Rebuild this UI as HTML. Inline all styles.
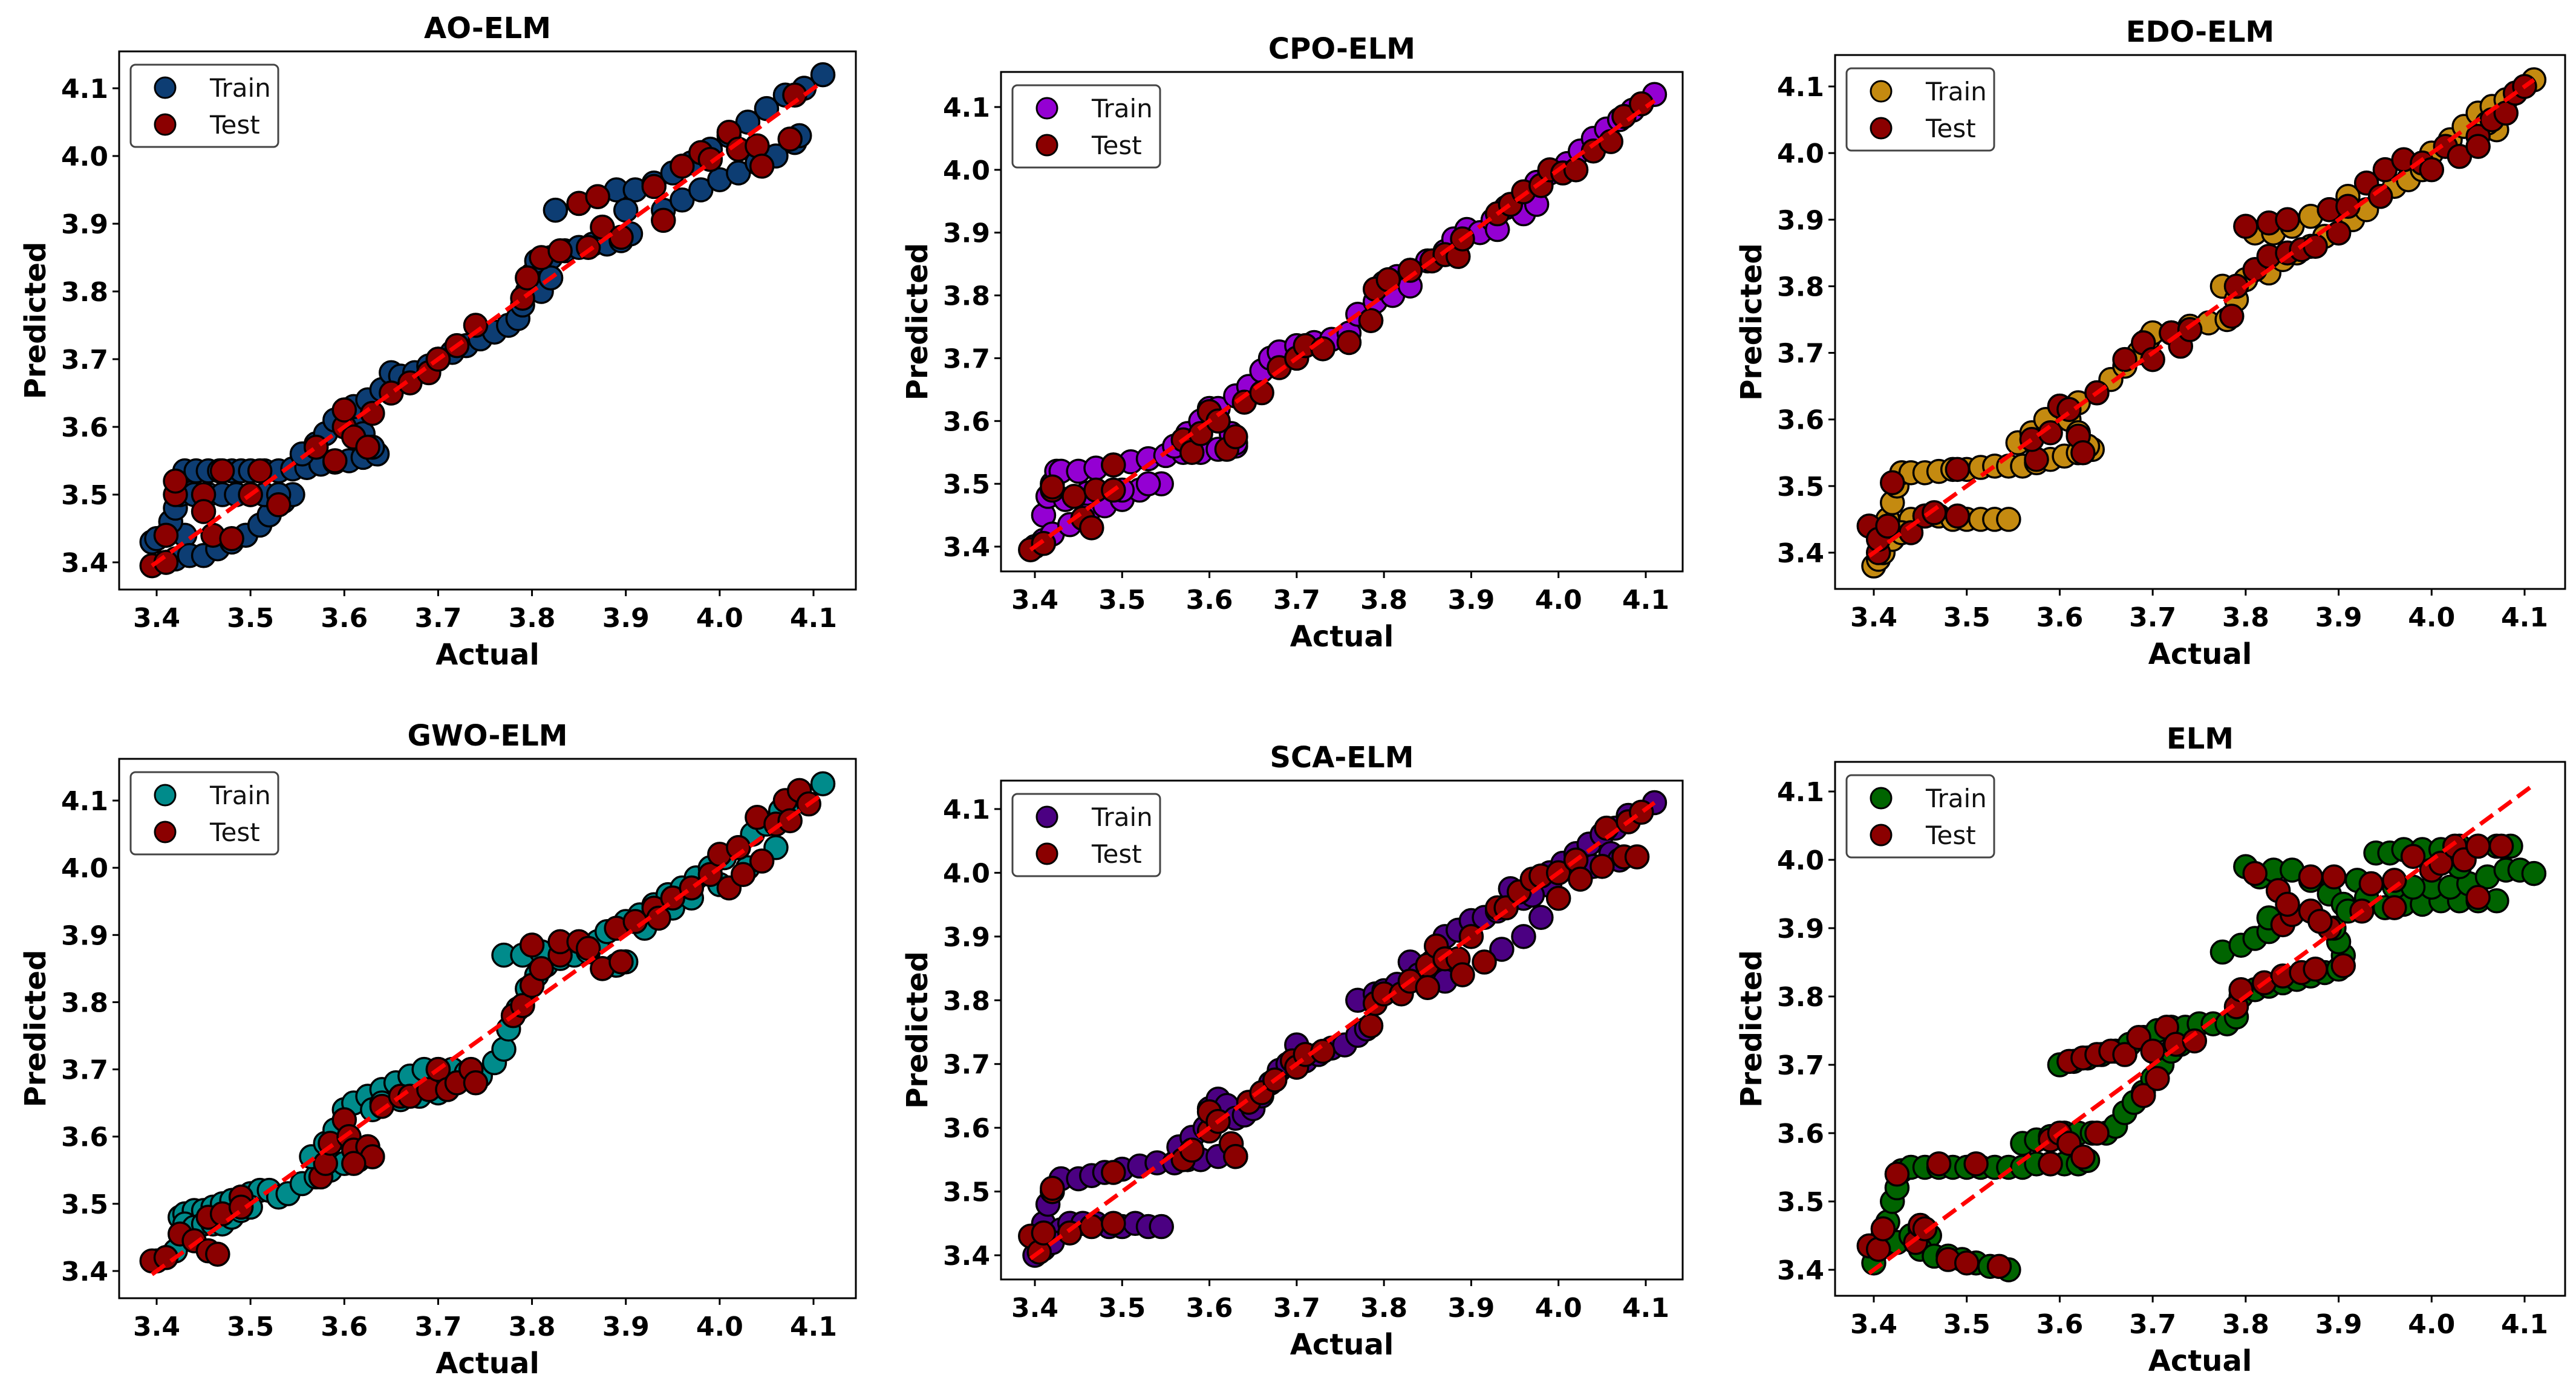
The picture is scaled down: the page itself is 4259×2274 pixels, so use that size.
<!DOCTYPE html>
<html><head><meta charset="utf-8"><style>
html,body{margin:0;padding:0;background:#fff;}
svg{display:block;}
text{font-family:"DejaVu Sans","Liberation Sans",sans-serif;}
</style></head><body>
<svg id="fig" width="4259" height="2274" viewBox="0 0 4259 2274" xmlns="http://www.w3.org/2000/svg"></svg>
<script>
const xTicks=[3.4,3.5,3.6,3.7,3.8,3.9,4.0,4.1];
const yTicks=[3.4,3.5,3.6,3.7,3.8,3.9,4.0,4.1];
const tickLabels=["3.4","3.5","3.6","3.7","3.8","3.9","4.0","4.1"];
const titles=["AO-ELM","CPO-ELM","EDO-ELM","GWO-ELM","SCA-ELM","ELM"];
const trainColors=["#0d3d73","#9400d3","#c48a10","#008b8b","#4b0082","#006400"];
const testColor="#8b0000";
const idealLine=[[3.395,3.395],[4.11,4.11]];

const aoTrain=[[3.395,3.43],[3.40,3.435],[3.41,3.44],[3.43,3.44],[3.41,3.40],[3.42,3.405],[3.435,3.41],[3.45,3.41],[3.465,3.42],[3.48,3.43],[3.495,3.44],[3.51,3.455],[3.52,3.47],[3.535,3.49],[3.545,3.50],[3.415,3.46],[3.42,3.48],[3.425,3.50],[3.425,3.52],[3.43,3.535],[3.442,3.535],[3.455,3.535],[3.467,3.535],[3.48,3.535],[3.49,3.535],[3.50,3.535],[3.515,3.535],[3.53,3.535],[3.545,3.538],[3.56,3.54],[3.575,3.545],[3.59,3.548],[3.605,3.55],[3.62,3.555],[3.635,3.56],[3.44,3.50],[3.455,3.50],[3.47,3.50],[3.485,3.50],[3.50,3.50],[3.515,3.50],[3.53,3.50],[3.555,3.56],[3.57,3.575],[3.58,3.59],[3.59,3.61],[3.60,3.625],[3.61,3.61],[3.62,3.59],[3.63,3.57],[3.61,3.63],[3.625,3.64],[3.64,3.655],[3.65,3.68],[3.66,3.675],[3.675,3.68],[3.69,3.69],[3.70,3.70],[3.715,3.71],[3.73,3.72],[3.745,3.73],[3.76,3.74],[3.775,3.75],[3.785,3.76],[3.79,3.78],[3.795,3.80],[3.80,3.825],[3.805,3.845],[3.82,3.85],[3.835,3.86],[3.85,3.865],[3.865,3.87],[3.88,3.87],[3.895,3.875],[3.905,3.885],[3.81,3.80],[3.82,3.82],[3.825,3.92],[3.85,3.93],[3.87,3.94],[3.89,3.95],[3.91,3.95],[3.93,3.96],[3.95,3.975],[3.97,3.99],[3.99,4.01],[4.01,4.03],[4.03,4.05],[4.05,4.07],[4.07,4.09],[4.09,4.10],[4.11,4.12],[3.90,3.92],[3.94,3.92],[3.96,3.935],[3.98,3.95],[4.00,3.965],[4.02,3.975],[4.04,3.99],[4.06,4.00],[4.08,4.02],[4.085,4.03]];
const aoTest=[[3.395,3.395],[3.41,3.40],[3.41,3.44],[3.42,3.50],[3.42,3.52],[3.45,3.50],[3.45,3.475],[3.46,3.44],[3.48,3.435],[3.50,3.50],[3.51,3.535],[3.47,3.535],[3.53,3.485],[3.57,3.57],[3.59,3.55],[3.60,3.60],[3.60,3.625],[3.61,3.585],[3.625,3.57],[3.63,3.62],[3.65,3.65],[3.67,3.665],[3.69,3.68],[3.70,3.70],[3.72,3.72],[3.74,3.75],[3.79,3.79],[3.795,3.82],[3.81,3.85],[3.83,3.86],[3.86,3.865],[3.875,3.895],[3.895,3.88],[3.85,3.93],[3.87,3.94],[3.93,3.955],[3.94,3.905],[3.96,3.985],[3.98,4.005],[3.99,3.995],[4.01,4.035],[4.02,4.01],[4.04,4.015],[4.045,3.985],[4.075,4.025],[4.08,4.09]];

const cpoTrain=[[3.40,3.40],[3.41,3.45],[3.415,3.48],[3.42,3.50],[3.425,3.52],[3.43,3.52],[3.45,3.52],[3.47,3.525],[3.49,3.53],[3.51,3.535],[3.53,3.54],[3.55,3.545],[3.57,3.55],[3.59,3.55],[3.61,3.555],[3.63,3.56],[3.41,3.41],[3.42,3.42],[3.44,3.435],[3.46,3.45],[3.48,3.465],[3.50,3.475],[3.52,3.49],[3.545,3.50],[3.435,3.475],[3.46,3.485],[3.50,3.49],[3.53,3.50],[3.56,3.56],[3.575,3.58],[3.59,3.60],[3.60,3.62],[3.61,3.60],[3.625,3.58],[3.63,3.565],[3.61,3.62],[3.63,3.64],[3.645,3.655],[3.66,3.68],[3.67,3.70],[3.68,3.71],[3.70,3.72],[3.72,3.725],[3.74,3.73],[3.76,3.74],[3.77,3.77],[3.785,3.76],[3.79,3.79],[3.80,3.82],[3.815,3.83],[3.83,3.84],[3.85,3.855],[3.87,3.87],[3.88,3.89],[3.895,3.905],[3.91,3.90],[3.925,3.92],[3.94,3.94],[3.96,3.96],[3.975,3.98],[3.99,3.995],[4.01,4.01],[4.025,4.03],[4.04,4.05],[4.055,4.065],[4.07,4.08],[4.085,4.095],[4.11,4.12],[3.96,3.93],[3.975,3.945],[3.93,3.905],[3.81,3.80],[3.83,3.815]];
const cpoTest=[[3.395,3.395],[3.41,3.405],[3.42,3.49],[3.42,3.495],[3.445,3.48],[3.455,3.445],[3.465,3.43],[3.47,3.49],[3.49,3.49],[3.49,3.53],[3.57,3.57],[3.58,3.55],[3.59,3.58],[3.60,3.615],[3.61,3.60],[3.62,3.555],[3.63,3.575],[3.64,3.63],[3.66,3.645],[3.68,3.685],[3.70,3.70],[3.71,3.72],[3.73,3.715],[3.76,3.725],[3.785,3.76],[3.79,3.81],[3.805,3.825],[3.83,3.84],[3.855,3.855],[3.87,3.865],[3.885,3.862],[3.89,3.89],[3.93,3.93],[3.945,3.945],[3.96,3.965],[3.98,3.975],[3.99,4.0],[4.005,3.995],[4.02,4.0],[4.04,4.03],[4.06,4.045],[4.075,4.085],[4.095,4.105]];

const edoTrain=[[3.40,3.38],[3.405,3.39],[3.41,3.40],[3.41,3.43],[3.415,3.45],[3.42,3.475],[3.425,3.50],[3.43,3.52],[3.44,3.52],[3.455,3.52],[3.47,3.522],[3.485,3.525],[3.50,3.525],[3.515,3.528],[3.53,3.53],[3.545,3.53],[3.56,3.53],[3.575,3.535],[3.59,3.54],[3.605,3.545],[3.62,3.55],[3.635,3.555],[3.44,3.45],[3.455,3.455],[3.47,3.455],[3.485,3.45],[3.50,3.45],[3.515,3.45],[3.53,3.45],[3.545,3.45],[3.42,3.42],[3.43,3.43],[3.555,3.565],[3.57,3.58],[3.585,3.60],[3.60,3.62],[3.61,3.60],[3.62,3.58],[3.63,3.56],[3.62,3.625],[3.64,3.64],[3.655,3.66],[3.67,3.68],[3.685,3.70],[3.695,3.72],[3.70,3.73],[3.72,3.73],[3.74,3.74],[3.76,3.745],[3.78,3.75],[3.775,3.80],[3.79,3.78],[3.80,3.81],[3.81,3.825],[3.825,3.82],[3.84,3.84],[3.855,3.85],[3.87,3.86],[3.885,3.875],[3.90,3.88],[3.915,3.90],[3.93,3.915],[3.945,3.935],[3.96,3.95],[3.975,3.96],[3.99,3.975],[4.00,4.00],[4.02,4.02],[4.035,4.04],[4.05,4.06],[4.065,4.07],[4.08,4.08],[4.11,4.11],[4.07,4.035],[4.06,4.045],[3.81,3.88],[3.83,3.88],[3.85,3.89],[3.87,3.905],[3.89,3.915],[3.91,3.935]];
const edoTest=[[3.395,3.44],[3.405,3.40],[3.405,3.42],[3.415,3.44],[3.42,3.505],[3.44,3.43],[3.455,3.455],[3.465,3.46],[3.49,3.455],[3.49,3.525],[3.575,3.54],[3.57,3.57],[3.59,3.58],[3.60,3.62],[3.61,3.615],[3.62,3.575],[3.625,3.55],[3.64,3.64],[3.67,3.69],[3.69,3.715],[3.70,3.69],[3.72,3.73],[3.73,3.71],[3.74,3.735],[3.785,3.755],[3.79,3.80],[3.81,3.825],[3.825,3.845],[3.845,3.85],[3.86,3.855],[3.875,3.86],[3.80,3.89],[3.825,3.895],[3.845,3.90],[3.89,3.915],[3.90,3.88],[3.91,3.92],[3.93,3.955],[3.945,3.935],[3.95,3.975],[3.97,3.99],[3.99,3.985],[4.00,3.975],[4.015,4.01],[4.03,3.995],[4.05,4.025],[4.065,4.05],[4.08,4.06],[4.09,4.09],[4.10,4.10],[4.05,4.01]];

const gwoTrain=[[3.40,3.415],[3.41,3.42],[3.42,3.43],[3.425,3.48],[3.43,3.485],[3.44,3.49],[3.45,3.49],[3.46,3.495],[3.47,3.50],[3.48,3.505],[3.49,3.51],[3.50,3.515],[3.51,3.52],[3.52,3.52],[3.53,3.51],[3.54,3.515],[3.43,3.47],[3.44,3.465],[3.45,3.47],[3.46,3.47],[3.47,3.47],[3.48,3.48],[3.49,3.49],[3.50,3.495],[3.555,3.53],[3.57,3.54],[3.585,3.55],[3.60,3.56],[3.615,3.565],[3.63,3.57],[3.565,3.57],[3.58,3.59],[3.59,3.61],[3.60,3.64],[3.61,3.65],[3.625,3.66],[3.64,3.67],[3.655,3.68],[3.67,3.69],[3.685,3.70],[3.70,3.70],[3.715,3.70],[3.73,3.695],[3.745,3.69],[3.76,3.71],[3.77,3.73],[3.775,3.76],[3.785,3.79],[3.795,3.82],[3.805,3.84],[3.815,3.855],[3.83,3.865],[3.845,3.87],[3.86,3.875],[3.87,3.89],[3.88,3.905],[3.875,3.85],[3.89,3.855],[3.90,3.86],[3.77,3.87],[3.79,3.87],[3.81,3.875],[3.63,3.64],[3.64,3.65],[3.66,3.655],[3.68,3.66],[3.70,3.665],[3.90,3.92],[3.915,3.93],[3.93,3.945],[3.945,3.96],[3.96,3.97],[3.975,3.985],[3.99,4.00],[4.005,4.015],[4.02,4.03],[4.035,4.05],[4.05,4.065],[4.065,4.085],[4.08,4.10],[4.11,4.125],[3.92,3.91],[3.95,3.94],[3.97,3.955],[4.00,3.975],[4.03,4.00],[4.06,4.03]];
const gwoTest=[[3.395,3.415],[3.41,3.42],[3.425,3.455],[3.44,3.445],[3.455,3.48],[3.455,3.43],[3.465,3.425],[3.47,3.485],[3.49,3.51],[3.49,3.495],[3.575,3.54],[3.58,3.56],[3.585,3.59],[3.60,3.625],[3.605,3.60],[3.61,3.58],[3.625,3.585],[3.63,3.57],[3.61,3.56],[3.64,3.645],[3.66,3.66],[3.67,3.66],[3.69,3.67],[3.70,3.70],[3.71,3.67],[3.72,3.68],[3.735,3.70],[3.74,3.68],[3.78,3.78],[3.79,3.795],[3.80,3.825],[3.81,3.85],[3.83,3.87],[3.80,3.885],[3.83,3.89],[3.85,3.89],[3.86,3.88],[3.875,3.85],[3.895,3.86],[3.89,3.91],[3.91,3.92],[3.93,3.94],[3.935,3.925],[3.95,3.955],[3.97,3.97],[3.99,3.99],[4.00,4.02],[4.01,3.97],[4.02,4.03],[4.025,3.99],[4.04,4.075],[4.045,4.01],[4.06,4.065],[4.07,4.10],[4.075,4.07],[4.085,4.115],[4.095,4.095]];

const scaTrain=[[3.40,3.40],[3.41,3.41],[3.41,3.45],[3.415,3.48],[3.42,3.50],[3.43,3.52],[3.45,3.52],[3.465,3.525],[3.48,3.53],[3.50,3.535],[3.52,3.54],[3.54,3.545],[3.56,3.545],[3.575,3.55],[3.59,3.55],[3.61,3.555],[3.63,3.555],[3.43,3.44],[3.44,3.45],[3.455,3.45],[3.47,3.45],[3.485,3.445],[3.50,3.445],[3.515,3.45],[3.53,3.445],[3.545,3.445],[3.42,3.42],[3.565,3.57],[3.58,3.585],[3.595,3.60],[3.60,3.63],[3.61,3.645],[3.62,3.635],[3.63,3.615],[3.64,3.62],[3.65,3.63],[3.66,3.65],[3.67,3.67],[3.68,3.69],[3.69,3.70],[3.70,3.73],[3.71,3.705],[3.725,3.715],[3.74,3.725],[3.755,3.73],[3.77,3.745],[3.78,3.755],[3.77,3.80],[3.79,3.81],[3.80,3.815],[3.815,3.825],[3.83,3.86],[3.84,3.84],[3.855,3.86],[3.87,3.90],[3.885,3.91],[3.90,3.925],[3.915,3.93],[3.93,3.94],[3.945,3.975],[3.96,3.96],[3.975,3.985],[3.99,4.00],[4.005,4.015],[4.02,4.03],[4.035,4.045],[4.05,4.06],[4.065,4.07],[4.08,4.09],[4.11,4.11],[4.06,4.03],[4.07,4.02],[4.04,4.01],[3.87,3.83],[3.935,3.88],[3.96,3.90],[3.98,3.93],[3.99,3.98],[3.97,3.965]];
const scaTest=[[3.395,3.43],[3.405,3.405],[3.41,3.435],[3.42,3.50],[3.42,3.505],[3.44,3.435],[3.465,3.445],[3.49,3.45],[3.49,3.53],[3.57,3.55],[3.58,3.565],[3.60,3.595],[3.60,3.625],[3.61,3.61],[3.625,3.575],[3.63,3.555],[3.645,3.64],[3.66,3.655],[3.675,3.675],[3.695,3.705],[3.70,3.695],[3.71,3.715],[3.73,3.72],[3.785,3.76],[3.79,3.795],[3.80,3.81],[3.82,3.81],[3.83,3.83],[3.85,3.855],[3.85,3.82],[3.86,3.885],[3.87,3.865],[3.885,3.865],[3.89,3.84],[3.90,3.90],[3.915,3.86],[3.93,3.945],[3.94,3.945],[3.955,3.97],[3.97,3.99],[3.98,3.995],[4.00,3.96],[4.00,4.0],[4.02,4.02],[4.025,3.99],[4.05,4.01],[4.055,4.07],[4.075,4.025],[4.08,4.08],[4.09,4.025],[4.095,4.095]];

const elmTrain=[[3.40,3.41],[3.405,3.43],[3.41,3.45],[3.415,3.47],[3.42,3.50],[3.425,3.52],[3.43,3.545],[3.44,3.55],[3.455,3.55],[3.47,3.55],[3.485,3.55],[3.50,3.55],[3.515,3.55],[3.53,3.55],[3.545,3.55],[3.56,3.55],[3.575,3.555],[3.59,3.555],[3.605,3.555],[3.62,3.555],[3.63,3.56],[3.41,3.435],[3.425,3.44],[3.44,3.45],[3.45,3.46],[3.46,3.45],[3.45,3.43],[3.465,3.42],[3.48,3.42],[3.495,3.415],[3.51,3.41],[3.525,3.405],[3.545,3.40],[3.56,3.585],[3.575,3.59],[3.59,3.595],[3.605,3.60],[3.62,3.60],[3.635,3.60],[3.65,3.60],[3.66,3.61],[3.67,3.63],[3.68,3.645],[3.69,3.66],[3.70,3.68],[3.71,3.70],[3.72,3.72],[3.73,3.73],[3.60,3.70],[3.615,3.705],[3.63,3.71],[3.645,3.715],[3.66,3.72],[3.675,3.73],[3.69,3.74],[3.705,3.75],[3.72,3.755],[3.735,3.755],[3.75,3.76],[3.765,3.76],[3.78,3.76],[3.79,3.77],[3.795,3.80],[3.81,3.81],[3.825,3.815],[3.84,3.82],[3.855,3.825],[3.87,3.83],[3.885,3.835],[3.90,3.84],[3.905,3.86],[3.90,3.88],[3.895,3.90],[3.775,3.865],[3.795,3.875],[3.81,3.885],[3.825,3.895],[3.825,3.915],[3.80,3.99],[3.815,3.975],[3.83,3.985],[3.85,3.985],[3.87,3.97],[3.89,3.95],[3.905,3.935],[3.91,3.925],[3.92,3.97],[3.93,3.945],[3.95,3.93],[3.97,3.935],[3.99,3.935],[4.01,3.94],[4.03,3.94],[4.05,3.94],[4.07,3.94],[3.94,4.01],[3.955,4.01],[3.97,4.015],[3.99,4.015],[4.01,4.015],[4.03,4.02],[4.05,4.02],[4.07,4.02],[4.085,4.02],[4.00,3.96],[4.02,3.96],[4.04,3.965],[4.06,3.975],[4.08,3.985],[4.095,3.985],[4.11,3.98],[3.96,3.96],[3.98,3.96],[4.03,3.99]];
const elmTest=[[3.395,3.435],[3.405,3.43],[3.41,3.46],[3.425,3.54],[3.445,3.44],[3.45,3.465],[3.455,3.46],[3.47,3.555],[3.48,3.415],[3.50,3.41],[3.51,3.555],[3.535,3.405],[3.59,3.555],[3.59,3.59],[3.60,3.60],[3.61,3.585],[3.625,3.565],[3.64,3.60],[3.61,3.705],[3.625,3.71],[3.64,3.715],[3.655,3.72],[3.67,3.715],[3.685,3.74],[3.69,3.655],[3.70,3.72],[3.705,3.68],[3.715,3.755],[3.725,3.73],[3.745,3.735],[3.79,3.785],[3.795,3.81],[3.82,3.82],[3.84,3.83],[3.86,3.835],[3.875,3.84],[3.905,3.845],[3.89,3.90],[3.84,3.905],[3.85,3.92],[3.87,3.925],[3.88,3.91],[3.81,3.98],[3.835,3.955],[3.845,3.935],[3.87,3.975],[3.895,3.975],[3.935,3.965],[3.925,3.925],[3.96,3.93],[3.96,3.97],[3.98,4.005],[4.00,3.985],[4.01,3.995],[4.025,4.02],[4.035,4.0],[4.05,3.945],[4.05,4.02],[4.075,4.02]];

const trainSets=[aoTrain,cpoTrain,edoTrain,gwoTrain,scaTrain,elmTrain];
const testSets=[aoTest,cpoTest,edoTest,gwoTest,scaTest,elmTest];

const panels=[
 {l:197,t:85,r:1415,b:975,x0:259,x1:1345,y0:930,y1:146},
 {l:1655,t:119,r:2782,b:945,x0:1711,x1:2721,y0:904,y1:177},
 {l:3034,t:91,r:4241,b:974,x0:3098,x1:4174,y0:914,y1:143},
 {l:197,t:1255,r:1415,b:2147,x0:259,x1:1345,y0:2102,y1:1324},
 {l:1655,t:1291,r:2782,b:2116,x0:1711,x1:2721,y0:2076,y1:1338},
 {l:3034,t:1260,r:4241,b:2143,x0:3098,x1:4174,y0:2100,y1:1309}
];
const NS="http://www.w3.org/2000/svg";
const svg=document.getElementById('fig');
function mk(tag,attrs,parent){const e=document.createElementNS(NS,tag);for(const k in attrs)e.setAttribute(k,attrs[k]);(parent||svg).appendChild(e);return e;}
const R=19;
panels.forEach((p,i)=>{
  const sx=v=>p.x0+(v-3.4)/0.7*(p.x1-p.x0);
  const sy=v=>p.y0+(v-3.4)/0.7*(p.y1-p.y0);
  const g=mk('g',{});
  
  
  const clipId='clip'+i;
  const cp=mk('clipPath',{id:clipId},g);
  mk('rect',{x:p.l,y:p.t,width:p.r-p.l,height:p.b-p.t},cp);
  const title=mk('text',{x:(p.l+p.r)/2,y:p.t-22,'text-anchor':'middle','font-size':48,'font-weight':'bold',fill:'#000'},g);
  title.textContent=titles[i];
  
  
  const plot=mk('g',{'clip-path':'url(#'+clipId+')'},g);
  const tr=mk('g',{},plot);
  
  
  trainSets[i].forEach(d=>{
    const c=mk('circle',{cx:sx(d[0]),cy:sy(d[1]),r:R,fill:trainColors[i],stroke:'#000','stroke-width':3.5},tr);
    
    
  });
  const te=mk('g',{},plot);
  
  
  testSets[i].forEach(d=>{
    const c=mk('circle',{cx:sx(d[0]),cy:sy(d[1]),r:R,fill:testColor,stroke:'#000','stroke-width':3.5},te);
    
    
  });
  const ln=mk('line',{x1:sx(idealLine[0][0]),y1:sy(idealLine[0][1]),x2:sx(idealLine[1][0]),y2:sy(idealLine[1][1]),stroke:'#ff0000','stroke-width':7,'stroke-dasharray':'26 12'},plot);
  
  
  const box=mk('rect',{x:p.l,y:p.t,width:p.r-p.l,height:p.b-p.t,fill:'none',stroke:'#000','stroke-width':3},g);
  
  
  xTicks.forEach((v,k)=>{
    const x=sx(v);
    mk('line',{x1:x,y1:p.b,x2:x,y2:p.b+11,stroke:'#000','stroke-width':3},g);
    const t=mk('text',{x:x,y:p.b+62,'text-anchor':'middle','font-size':44,'font-weight':'bold'},g);
    t.textContent=tickLabels[k];
    
    
  });
  yTicks.forEach((v,k)=>{
    const y=sy(v);
    mk('line',{x1:p.l-11,y1:y,x2:p.l,y2:y,stroke:'#000','stroke-width':3},g);
    const t=mk('text',{x:p.l-18,y:y+16,'text-anchor':'end','font-size':44,'font-weight':'bold'},g);
    t.textContent=tickLabels[k];
    
    
  });
  const xl=mk('text',{x:(p.l+p.r)/2,y:p.b+124,'text-anchor':'middle','font-size':48,'font-weight':'bold'},g);
  xl.textContent='Actual';
  
  
  const yc=(p.t+p.b)/2, yx=p.l-122;
  const yl=mk('text',{x:yx,y:yc,'text-anchor':'middle','font-size':48,'font-weight':'bold',transform:'rotate(-90 '+yx+' '+yc+')'},g);
  yl.textContent='Predicted';
  
  
  const lg=mk('g',{},g);
  
  
  const lx=p.l+19, ly=p.t+22;
  mk('rect',{x:lx,y:ly,width:244,height:136,rx:8,fill:'#fff','fill-opacity':0.85,stroke:'#444','stroke-width':3},lg);
  [['Train',trainColors[i]],['Test',testColor]].forEach((e,k)=>{
    const cy=ly+38+k*61;
    const m=mk('circle',{cx:lx+57,cy:cy,r:17,fill:e[1],stroke:'#000','stroke-width':3},lg);
    
    
    const t=mk('text',{x:lx+131,y:cy+15,'font-size':42,fill:'#111'},lg);
    t.textContent=e[0];
    
    
  });
});
</script>
</body></html>
